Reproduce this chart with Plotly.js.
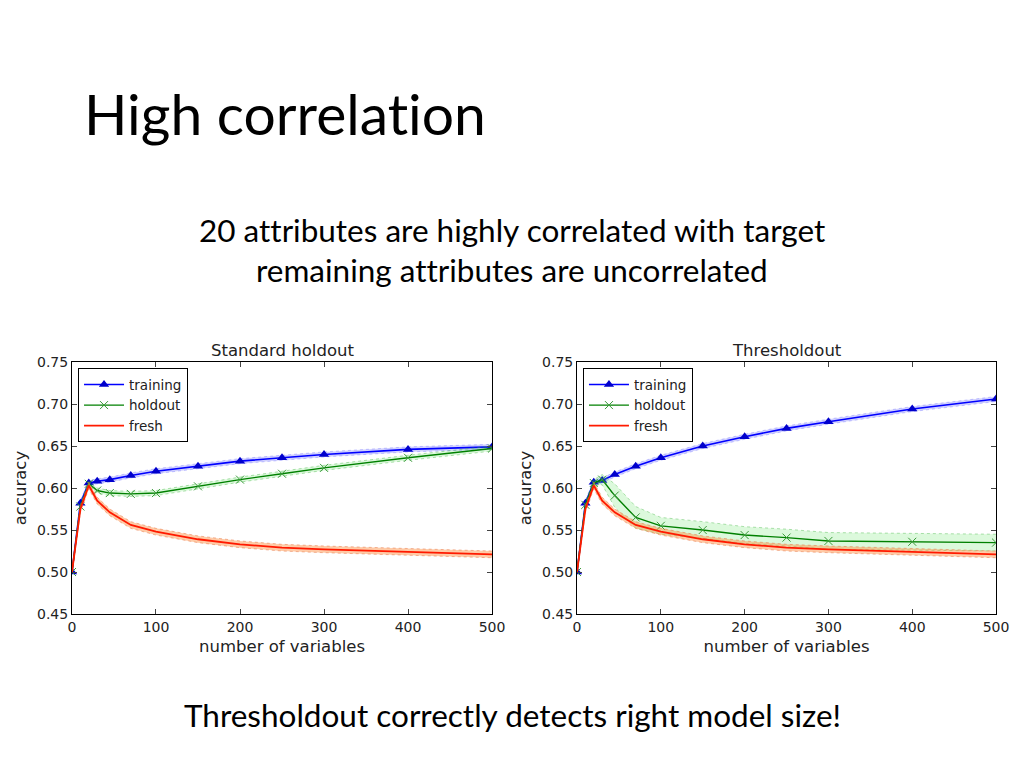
<!DOCTYPE html>
<html>
<head>
<meta charset="utf-8">
<script src="https://cdn.plot.ly/plotly-3.0.1.min.js"></script>
<style>html,body{margin:0;padding:0;background:#fff;}#chart{width:1024px;height:768px;}
svg text{font-variant-ligatures:none;font-feature-settings:"liga" 0,"clig" 0;}</style>
</head>
<body>
<div id="chart"></div>
<script>
// ---- data ----
const numVariables = [0, 10, 20, 30, 45, 70, 100, 150, 200, 250, 300, 400, 500];

// Standard holdout
const stdTraining = [0.500, 0.582, 0.606, 0.608, 0.610, 0.615, 0.620, 0.626, 0.632, 0.636, 0.640, 0.646, 0.649];
const stdTrainingErr = [0.001, 0.003, 0.003, 0.003, 0.003, 0.003, 0.003, 0.003, 0.003, 0.003, 0.003, 0.003, 0.003];
const stdHoldout = [0.500, 0.578, 0.605, 0.597, 0.594, 0.593, 0.594, 0.602, 0.610, 0.617, 0.624, 0.636, 0.647];
const stdHoldoutErr = [0.001, 0.003, 0.003, 0.003, 0.003, 0.003, 0.003, 0.003, 0.003, 0.003, 0.003, 0.003, 0.003];
const stdFresh = [0.500, 0.575, 0.603, 0.585, 0.571, 0.556, 0.548, 0.539, 0.533, 0.529, 0.527, 0.524, 0.521];
const stdFreshErr = [0.001, 0.004, 0.004, 0.004, 0.004, 0.004, 0.004, 0.004, 0.004, 0.004, 0.004, 0.004, 0.004];

// Thresholdout
const thrTraining = [0.500, 0.582, 0.607, 0.609, 0.616, 0.626, 0.636, 0.650, 0.661, 0.671, 0.679, 0.694, 0.706];
const thrTrainingErr = [0.001, 0.003, 0.003, 0.003, 0.003, 0.003, 0.003, 0.003, 0.003, 0.003, 0.003, 0.003, 0.003];
const thrHoldout = [0.500, 0.580, 0.606, 0.610, 0.591, 0.565, 0.555, 0.550, 0.544, 0.541, 0.537, 0.536, 0.535];
const thrHoldoutErr = [0.001, 0.003, 0.004, 0.006, 0.014, 0.013, 0.010, 0.010, 0.010, 0.010, 0.010, 0.010, 0.010];
const thrFresh = [0.500, 0.575, 0.603, 0.585, 0.571, 0.556, 0.548, 0.539, 0.533, 0.529, 0.527, 0.524, 0.521];
const thrFreshErr = [0.001, 0.004, 0.004, 0.004, 0.004, 0.004, 0.004, 0.004, 0.004, 0.004, 0.004, 0.004, 0.004];

const seriesNames = ['training', 'holdout', 'fresh'];
const panelTitles = ['Standard holdout', 'Thresholdout'];
const xTicks = [0, 100, 200, 300, 400, 500];
const yTicks = [0.45, 0.50, 0.55, 0.60, 0.65, 0.70, 0.75];

// ---- styles ----
const styles = {
  training: {line: '#0000ff', width: 1.6, fill: 'rgba(90,90,255,0.28)', edge: 'rgba(90,90,255,0.4)', mode: 'lines+markers', marker: {symbol: 'triangle-up', size: 9, color: '#0000cc'}},
  holdout: {line: '#008000', width: 1.4, fill: 'rgba(60,220,60,0.18)', edge: 'rgba(60,180,60,0.5)', mode: 'lines+markers', marker: {symbol: 'x-thin-open', size: 8, color: '#3a9a3a', line: {width: 1, color: '#3a9a3a'}}},
  fresh: {line: '#ff1a00', width: 1.8, fill: 'rgba(255,140,60,0.45)', edge: 'rgba(230,110,60,0.6)', mode: 'lines', marker: {}}
};

const traces = [];
function addSeries(name, y, err, xa, ya, legendId) {
  const st = styles[name];
  const upper = y.map((v, i) => v + err[i]);
  const lower = y.map((v, i) => v - err[i]);
  traces.push({x: numVariables, y: lower, xaxis: xa, yaxis: ya, mode: 'lines',
    line: {color: st.edge, width: 0.8, dash: 'dot'}, showlegend: false, hoverinfo: 'skip'});
  traces.push({x: numVariables, y: upper, xaxis: xa, yaxis: ya, mode: 'lines', fill: 'tonexty',
    fillcolor: st.fill, line: {color: st.edge, width: 0.8, dash: 'dot'}, showlegend: false, hoverinfo: 'skip'});
  traces.push({x: numVariables, y: y, xaxis: xa, yaxis: ya, name: name, mode: st.mode,
    line: {color: st.line, width: st.width}, marker: st.marker, legend: legendId});
}
addSeries('training', stdTraining, stdTrainingErr, 'x', 'y', 'legend');
addSeries('holdout', stdHoldout, stdHoldoutErr, 'x', 'y', 'legend');
addSeries('fresh', stdFresh, stdFreshErr, 'x', 'y', 'legend');
addSeries('training', thrTraining, thrTrainingErr, 'x2', 'y2', 'legend2');
addSeries('holdout', thrHoldout, thrHoldoutErr, 'x2', 'y2', 'legend2');
addSeries('fresh', thrFresh, thrFreshErr, 'x2', 'y2', 'legend2');

const tickFont = {family: 'DejaVu Sans', size: 14, color: '#222'};
function xAxis(domain, anchor) {
  return {domain: domain, anchor: anchor, range: [0, 500], tickvals: xTicks, ticks: 'inside', ticklen: 5,
    showline: true, linecolor: '#000', linewidth: 1, mirror: 'ticks', showgrid: false, zeroline: false,
    tickfont: tickFont, title: {text: 'number of variables', font: {family: 'DejaVu Sans', size: 16.5, color: '#222'}, standoff: 6}};
}
function yAxis(anchor) {
  return {domain: [0.2005, 0.5286], anchor: anchor, range: [0.45, 0.75], tickvals: yTicks, tickformat: '.2f',
    ticks: 'inside', ticklen: 5, showline: true, linecolor: '#000', linewidth: 1, mirror: 'ticks',
    showgrid: false, zeroline: false, tickfont: tickFont,
    title: {text: 'accuracy', font: {family: 'DejaVu Sans', size: 16.5, color: '#222'}, standoff: 6}};
}
const legendStyle = (x) => ({x: x, y: 0.5205, xref: 'paper', yref: 'paper', xanchor: 'left', yanchor: 'top',
  bgcolor: '#fff', bordercolor: '#000', borderwidth: 1, font: {family: 'DejaVu Sans', size: 13.5, color: '#222'},
  traceorder: 'normal', tracegroupgap: 0, itemwidth: 40});

const layout = {
  width: 1024, height: 768, margin: {l: 0, r: 0, t: 0, b: 0},
  paper_bgcolor: '#fff', plot_bgcolor: '#fff',
  xaxis: xAxis([0.0703, 0.4805], 'y'),
  yaxis: yAxis('x'),
  xaxis2: xAxis([0.5635, 0.9727], 'y2'),
  yaxis2: yAxis('x2'),
  legend: legendStyle(0.0762),
  legend2: legendStyle(0.5693),
  annotations: [
    {text: 'High correlation', x: 82 / 1024, y: 1 - 113 / 768, xref: 'paper', yref: 'paper', xanchor: 'left', yanchor: 'middle', showarrow: false,
      font: {family: 'Lato', size: 57, color: '#000'}},
    {text: '20 attributes are highly correlated with target', x: 0.5, y: 1 - 230 / 768, xref: 'paper', yref: 'paper', xanchor: 'center', yanchor: 'middle', showarrow: false,
      font: {family: 'Lato', size: 31.5, color: '#000'}},
    {text: 'remaining attributes are uncorrelated', x: 0.5, y: 1 - 270 / 768, xref: 'paper', yref: 'paper', xanchor: 'center', yanchor: 'middle', showarrow: false,
      font: {family: 'Lato', size: 31.5, color: '#000'}},
    {text: 'Thresholdout correctly detects right model size!', x: 0.5, y: 1 - 715 / 768, xref: 'paper', yref: 'paper', xanchor: 'center', yanchor: 'middle', showarrow: false,
      font: {family: 'Lato', size: 31.5, color: '#000'}},
    {text: panelTitles[0], x: 0.2754, y: 1 - 350 / 768, xref: 'paper', yref: 'paper', xanchor: 'center', yanchor: 'middle', showarrow: false,
      font: {family: 'DejaVu Sans', size: 16.5, color: '#222'}},
    {text: panelTitles[1], x: 0.7681, y: 1 - 350 / 768, xref: 'paper', yref: 'paper', xanchor: 'center', yanchor: 'middle', showarrow: false,
      font: {family: 'DejaVu Sans', size: 16.5, color: '#222'}}
  ]
};

Plotly.newPlot('chart', traces, layout, {displayModeBar: false, staticPlot: true});
</script>
</body>
</html>
